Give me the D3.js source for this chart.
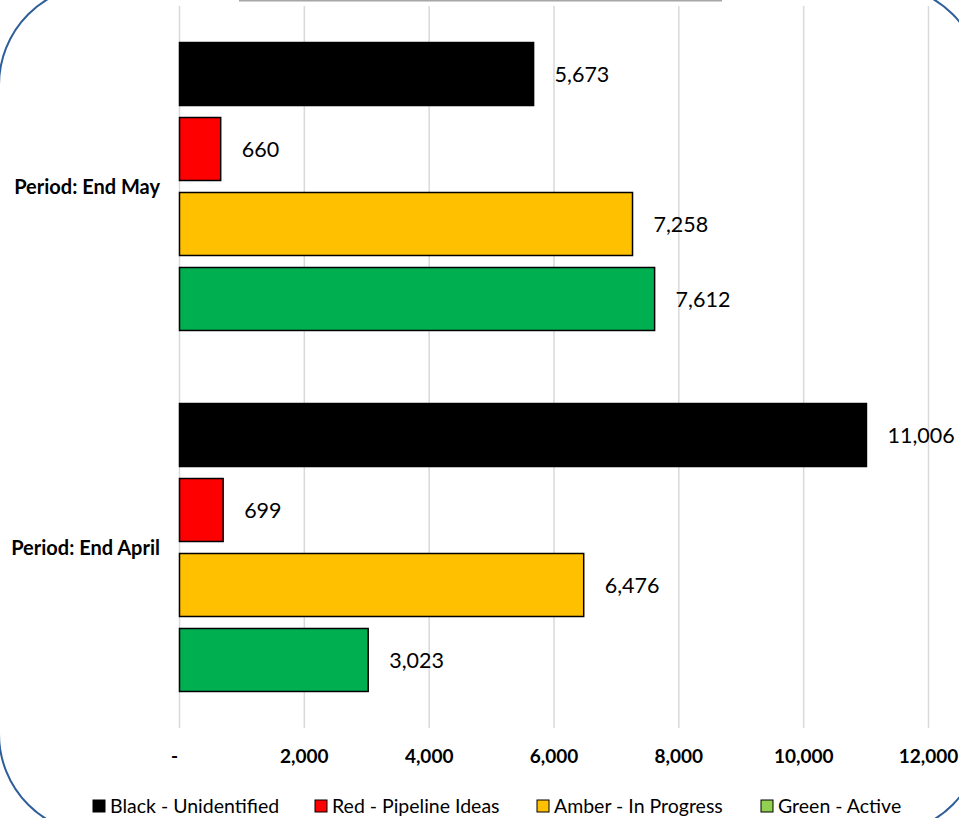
<!DOCTYPE html>
<html>
<head>
<meta charset="utf-8">
<script src="https://cdn.jsdelivr.net/npm/d3@7"></script>
<style>
  body { margin: 0; background: #fff; }
  svg { display: block; font-family: Lato, "Open Sans", sans-serif; }
</style>
</head>
<body>
<div id="chart"></div>
<script>
// categories (top to bottom) and series
var periods = ["Period: End May", "Period: End April"];
var seriesNames = ["Black - Unidentified", "Red - Pipeline Ideas", "Amber - In Progress", "Green - Active"];
var barColors = ["#000000", "#FF0000", "#FFC000", "#00B050"];
var legendColors = ["#000000", "#FF0000", "#FFC000", "#92D050"];
var blackValues = [5673, 11006];
var redValues = [660, 699];
var amberValues = [7258, 6476];
var greenValues = [7612, 3023];
var xTicks = [0, 2000, 4000, 6000, 8000, 10000, 12000];

var W = 959, H = 818;
var svg = d3.select("#chart").append("svg")
    .attr("width", W)
    .attr("height", H);

// rounded chart frame, bigger than the view
svg.append("rect")
    .attr("x", -1).attr("y", -15)
    .attr("width", 983).attr("height", 849)
    .attr("rx", 100).attr("ry", 100)
    .attr("fill", "none")
    .attr("stroke", "#2F5E99")
    .attr("stroke-width", 2);

// remains of the title box at the top
svg.append("line")
    .attr("x1", 239).attr("x2", 722)
    .attr("y1", 0.5).attr("y2", 0.5)
    .attr("stroke", "#A6A6A6")
    .attr("stroke-width", 2);

var x = d3.scaleLinear().domain([0, 12000]).range([179.5, 928.5]);
var y = d3.scaleBand().domain(periods).range([6, 728]).padding(0);
var yInner = d3.scaleBand().domain(seriesNames).range([0, y.bandwidth()])
    .paddingInner(0.16).paddingOuter(0.487);

// grid lines
svg.selectAll(".grid")
    .data(xTicks)
    .join("line")
    .attr("class", "grid")
    .attr("x1", d => x(d)).attr("x2", d => x(d))
    .attr("y1", 6).attr("y2", 728)
    .attr("stroke", "#D9D9D9")
    .attr("stroke-width", 1.5);

// tick labels
svg.selectAll(".tick-label")
    .data(xTicks)
    .join("text")
    .attr("class", "tick-label")
    .attr("x", d => d === 0 ? x(d) - 5 : x(d))
    .attr("y", 763)
    .attr("text-anchor", "middle")
    .attr("font-size", "19px")
    .attr("font-weight", "bold")
    .attr("fill", "#000")
    .text(d => d === 0 ? "-" : d3.format(",")(d));

// category labels
svg.selectAll(".cat-label")
    .data(periods)
    .join("text")
    .attr("class", "cat-label")
    .attr("x", 160)
    .attr("y", d => y(d) + y.bandwidth() / 2)
    .attr("dy", "0.35em")
    .attr("text-anchor", "end")
    .attr("font-size", "20px")
    .attr("font-weight", "bold")
    .attr("fill", "#000")
    .text(d => d);

// build rows for bars
var allSeries = [blackValues, redValues, amberValues, greenValues];
var rows = [];
periods.forEach(function (p, i) {
    seriesNames.forEach(function (s, j) {
        rows.push({ period: p, series: s, value: allSeries[j][i], color: barColors[j] });
    });
});

svg.selectAll(".bar")
    .data(rows)
    .join("rect")
    .attr("class", "bar")
    .attr("x", x(0))
    .attr("y", d => y(d.period) + yInner(d.series))
    .attr("width", d => x(d.value) - x(0))
    .attr("height", yInner.bandwidth())
    .attr("fill", d => d.color)
    .attr("stroke", "#000")
    .attr("stroke-width", 1.5);

svg.selectAll(".value-label")
    .data(rows)
    .join("text")
    .attr("class", "value-label")
    .attr("x", d => x(d.value) + 21)
    .attr("y", d => y(d.period) + yInner(d.series) + yInner.bandwidth() / 2)
    .attr("dy", "0.35em")
    .attr("font-size", "21.5px")
    .attr("fill", "#000")
    .text(d => d3.format(",")(d.value));

// legend
var legendX = [93, 315, 537, 761];
var legend = svg.selectAll(".legend")
    .data(seriesNames)
    .join("g")
    .attr("class", "legend")
    .attr("transform", (d, i) => "translate(" + legendX[i] + ",800)");

legend.append("rect")
    .attr("width", 12).attr("height", 12)
    .attr("fill", (d, i) => legendColors[i])
    .attr("stroke", "#000")
    .attr("stroke-width", 1);

legend.append("text")
    .attr("x", 17)
    .attr("y", 6)
    .attr("dy", "0.35em")
    .attr("font-size", "19.5px")
    .attr("fill", "#000")
    .text(d => d);
</script>
</body>
</html>
